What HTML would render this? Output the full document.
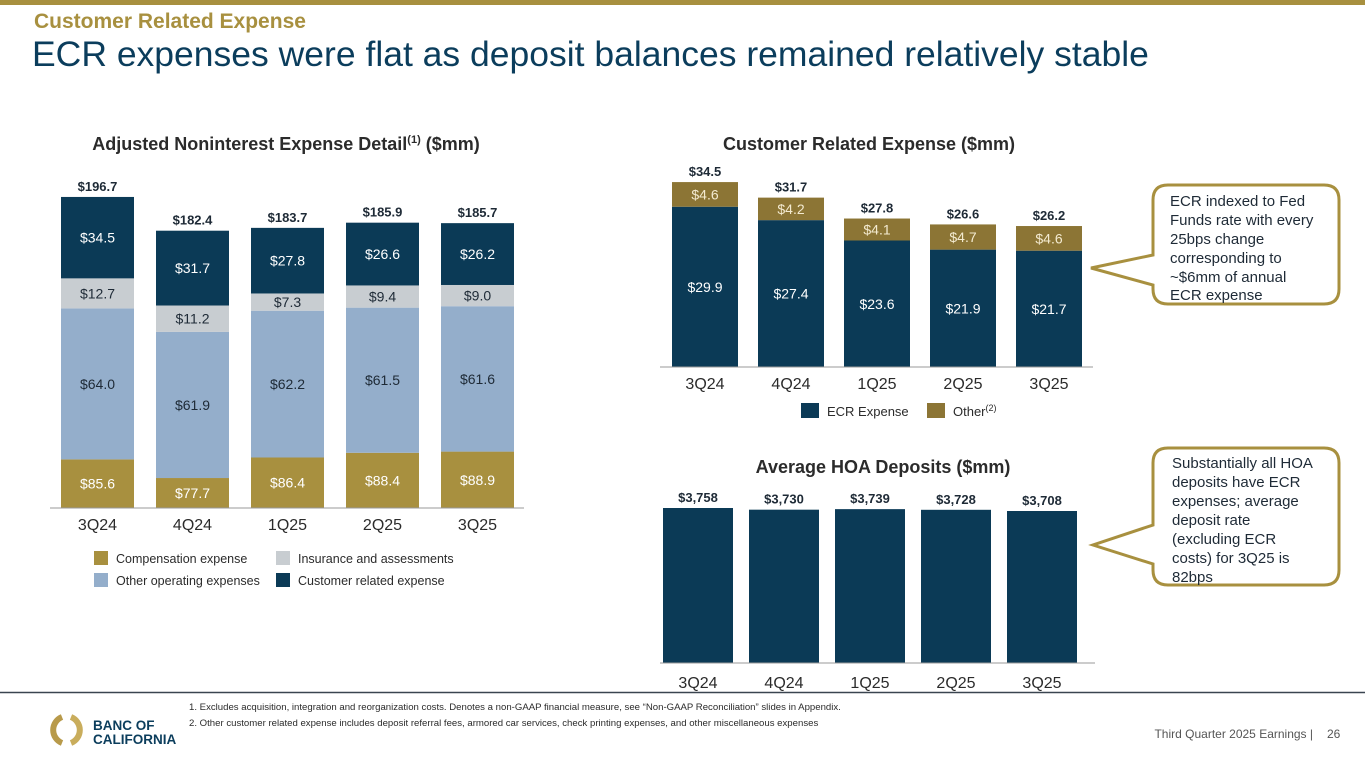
<!DOCTYPE html>
<html><head><meta charset="utf-8"><style>
body{margin:0;width:1365px;height:768px;background:#fff;overflow:hidden;font-family:"Liberation Sans",Arial,sans-serif}
svg{display:block}
</style></head><body>
<svg id="s" width="1365" height="768" viewBox="0 0 1365 768" xmlns="http://www.w3.org/2000/svg" font-family="Liberation Sans, Arial, sans-serif">
<rect x="0" y="0" width="1365" height="5" fill="#a8903f"/>
<text x="34" y="28" font-size="21" font-weight="bold" fill="#a8903f">Customer Related Expense</text>
<text x="32" y="66" font-size="35.5" fill="#0b3d5c">ECR expenses were flat as deposit balances remained relatively stable</text>

<text x="286" y="150" font-size="18" font-weight="bold" fill="#2b2b2b" text-anchor="middle">Adjusted Noninterest Expense Detail<tspan font-size="11" dy="-7">(1)</tspan><tspan dy="7"> ($mm)</tspan></text>
<text x="869" y="150" font-size="18" font-weight="bold" fill="#2b2b2b" text-anchor="middle">Customer Related Expense ($mm)</text>
<text x="883" y="473" font-size="18" font-weight="bold" fill="#2b2b2b" text-anchor="middle">Average HOA Deposits ($mm)</text>

<g id="left"></g>
<g id="ecr"></g>
<g id="hoa"></g>

<g font-size="12.5" fill="#2b2b2b">
<rect x="94" y="551" width="14" height="14" fill="#a8903f"/><text x="116" y="563">Compensation expense</text>
<rect x="276" y="551" width="14" height="14" fill="#c8cdd1"/><text x="298" y="563">Insurance and assessments</text>
<rect x="94" y="573" width="14" height="14" fill="#94aecb"/><text x="116" y="585">Other operating expenses</text>
<rect x="276" y="573" width="14" height="14" fill="#0b3a56"/><text x="298" y="585">Customer related expense</text>
</g>
<g font-size="13" fill="#2b2b2b">
<rect x="801" y="403" width="18" height="15" fill="#0b3a56"/><text x="827" y="416">ECR Expense</text>
<rect x="927" y="403" width="18" height="15" fill="#8c7535"/><text x="953" y="416">Other<tspan font-size="9" dy="-5">(2)</tspan></text>
</g>

<g>
<path d="M1168,185 H1324 Q1339,185 1339,200 V289 Q1339,304 1324,304 H1168 Q1153,304 1153,289 V285 L1091,268 L1153,255 V200 Q1153,185 1168,185 Z" fill="#fff" stroke="#a8903f" stroke-width="3"/>
<text font-size="15" fill="#1e2a36"><tspan x="1170" y="206">ECR indexed to Fed</tspan><tspan x="1170" y="225">Funds rate with every</tspan><tspan x="1170" y="244">25bps change</tspan><tspan x="1170" y="263">corresponding to</tspan><tspan x="1170" y="282">~$6mm of annual</tspan><tspan x="1170" y="300">ECR expense</tspan></text>
</g>
<g>
<path d="M1168,448 H1324 Q1339,448 1339,463 V570 Q1339,585 1324,585 H1168 Q1153,585 1153,570 V564 L1093,545 L1153,525 V463 Q1153,448 1168,448 Z" fill="#fff" stroke="#a8903f" stroke-width="3"/>
<text font-size="15" fill="#1e2a36"><tspan x="1172" y="468">Substantially all HOA</tspan><tspan x="1172" y="487">deposits have ECR</tspan><tspan x="1172" y="506">expenses; average</tspan><tspan x="1172" y="525">deposit rate</tspan><tspan x="1172" y="544">(excluding ECR</tspan><tspan x="1172" y="563">costs) for 3Q25 is</tspan><tspan x="1172" y="582">82bps</tspan></text>
</g>

<line x1="0" y1="692.5" x2="1365" y2="692.5" stroke="#3a4450" stroke-width="1.5"/>
<g font-size="9.6" fill="#2b2b2b">
<text x="189" y="710">1.  Excludes acquisition, integration and reorganization costs. Denotes a non-GAAP financial measure, see “Non-GAAP Reconciliation” slides in Appendix.</text>
<text x="189" y="726">2.  Other customer related expense includes deposit referral fees, armored car services, check printing expenses, and other miscellaneous expenses</text>
</g>
<g>
<path d="M62,717 A14,14 0 0 0 62,743" fill="none" stroke="#b89a4a" stroke-width="6"/>
<path d="M71,717 A14,14 0 0 1 71,743" fill="none" stroke="#c9ad5c" stroke-width="6"/>
<text x="93" y="730" font-size="13.5" font-weight="bold" fill="#0b3d5c">BANC OF</text>
<text x="93" y="744" font-size="13.5" font-weight="bold" fill="#0b3d5c">CALIFORNIA</text>
</g>
<text x="1313" y="738" font-size="12" fill="#555" text-anchor="end">Third Quarter 2025 Earnings |</text>
<text x="1327" y="738" font-size="12" fill="#555">26</text>
</svg>
<script>
const categories=["3Q24","4Q24","1Q25","2Q25","3Q25"];
const compensation=[85.6,77.7,86.4,88.4,88.9];
const otherOperating=[64.0,61.9,62.2,61.5,61.6];
const insurance=[12.7,11.2,7.3,9.4,9.0];
const customerRelated=[34.5,31.7,27.8,26.6,26.2];
const totals=["$196.7","$182.4","$183.7","$185.9","$185.7"];
const ecrExpense=[29.9,27.4,23.6,21.9,21.7];
const ecrOther=[4.6,4.2,4.1,4.7,4.6];
const ecrTotals=["$34.5","$31.7","$27.8","$26.6","$26.2"];
const hoaDeposits=[3758,3730,3739,3728,3708];

const NS="http://www.w3.org/2000/svg";
function mk(parent,tag,attrs,txt){const e=document.createElementNS(NS,tag);for(const k in attrs)e.setAttribute(k,attrs[k]);if(txt!==undefined)e.textContent=txt;parent.appendChild(e);return e;}

// Left chart
const L=document.getElementById('left');
const lBase=508, lMin=65, lScale=2.36;
const ly=v=>lBase-(v-lMin)*lScale;
const lx=i=>61+i*95;
const segs=[[compensation,"#a8903f","#fff","compensation"],[otherOperating,"#94aecb","#1e2a36","other-operating"],[insurance,"#c8cdd1","#1e2a36","insurance"],[customerRelated,"#0b3a56","#fff","customer-related"]];
categories.forEach((c,i)=>{
  let cum=lMin;
  segs.forEach(([arr,col,tc,nm],si)=>{
    const v=arr[i];const start=si===0?lMin:cum;const end=si===0?v:cum+v;
    const y0=ly(start),y1=ly(end);
    const r=mk(L,'rect',{x:lx(i),y:y1,width:73,height:y0-y1,fill:col});
    
    
    const t=mk(L,'text',{x:lx(i)+36.5,y:(y0+y1)/2+5,'font-size':14,fill:tc,'text-anchor':'middle'},'$'+v.toFixed(1));
    
    
    cum=end;
  });
  const t=mk(L,'text',{x:lx(i)+36.5,y:ly(cum)-6,'font-size':13,'font-weight':'bold',fill:'#1e2a36','text-anchor':'middle'},totals[i]);
  
  
  const a=mk(L,'text',{x:lx(i)+36.5,y:530,'font-size':16,fill:'#2b2b2b','text-anchor':'middle'},c);
  
  
});
const la=mk(L,'line',{x1:50,y1:lBase,x2:524,y2:lBase,stroke:'#999','stroke-width':1});



// ECR chart
const E=document.getElementById('ecr');
const eBase=367, eScale=5.36;
const ey=v=>eBase-v*eScale;
const ex=i=>672+i*86;
categories.forEach((c,i)=>{
  const a=ecrExpense[i], o=ecrOther[i];
  const r1=mk(E,'rect',{x:ex(i),y:ey(a),width:66,height:a*eScale,fill:'#0b3a56'});
  
  
  const r2=mk(E,'rect',{x:ex(i),y:ey(a+o),width:66,height:o*eScale,fill:'#8c7535'});
  
  
  const t1=mk(E,'text',{x:ex(i)+33,y:(ey(a)+eBase)/2+5,'font-size':14,fill:'#fff','text-anchor':'middle'},'$'+a.toFixed(1));
  
  
  const t2=mk(E,'text',{x:ex(i)+33,y:(ey(a)+ey(a+o))/2+5,'font-size':14,fill:'#f3ead0','text-anchor':'middle'},'$'+o.toFixed(1));
  
  
  const t3=mk(E,'text',{x:ex(i)+33,y:ey(a+o)-6,'font-size':13,'font-weight':'bold',fill:'#1e2a36','text-anchor':'middle'},ecrTotals[i]);
  
  
  const xl=mk(E,'text',{x:ex(i)+33,y:389,'font-size':16,fill:'#2b2b2b','text-anchor':'middle'},c);
  
  
});
const ea=mk(E,'line',{x1:660,y1:eBase,x2:1093,y2:eBase,stroke:'#999','stroke-width':1});



// HOA chart
const H=document.getElementById('hoa');
const hBase=663, hMin=1175, hScale=155/(3758-1175);
const hy=v=>hBase-(v-hMin)*hScale;
const hx=i=>663+i*86;
categories.forEach((c,i)=>{
  const v=hoaDeposits[i];
  const r=mk(H,'rect',{x:hx(i),y:hy(v),width:70,height:hBase-hy(v),fill:'#0b3a56'});
  
  
  const t=mk(H,'text',{x:hx(i)+35,y:hy(v)-6,'font-size':13,'font-weight':'bold',fill:'#1e2a36','text-anchor':'middle'},'$'+v.toLocaleString('en-US'));
  
  
  const xl=mk(H,'text',{x:hx(i)+35,y:688,'font-size':16,fill:'#2b2b2b','text-anchor':'middle'},c);
  
  
});
const ha=mk(H,'line',{x1:660,y1:hBase,x2:1095,y2:hBase,stroke:'#999','stroke-width':1});


</script>
</body></html>
